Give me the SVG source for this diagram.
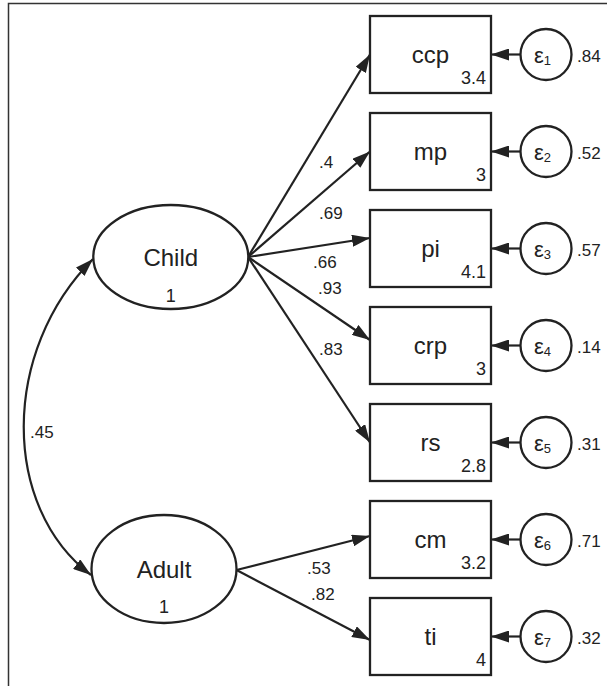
<svg xmlns="http://www.w3.org/2000/svg" width="607" height="686" viewBox="0 0 607 686">
<style>
.frame{fill:none;stroke:#333;stroke-width:1.5}
.box{fill:#fff;stroke:#222;stroke-width:2.3}
.lat{fill:#fff;stroke:#222;stroke-width:2.3}
.err{fill:#fff;stroke:#222;stroke-width:2.3}
.edge{fill:none;stroke:#222;stroke-width:2.2}
text{font-family:"Liberation Sans",Arial,sans-serif;fill:#222}
.lbl{font-size:24px;text-anchor:middle}
.num{font-size:18px;text-anchor:end}
.one{font-size:18px;text-anchor:middle}
.coef{font-size:17px}
.eps{font-size:22px}
.sub{font-size:13px}
</style>
<defs>
<marker id="ah" markerUnits="userSpaceOnUse" markerWidth="18" markerHeight="12" refX="18" refY="6" orient="auto-start-reverse">
<path d="M0,0 L18,6 L0,12 z" fill="#222"/>
</marker>
</defs>
<path class="frame" d="M8.5,686 V3.5 H607"/>
<g id="connectors">
<line class="edge" x1="248" y1="257" x2="370" y2="54.5" marker-end="url(#ah)"/>
<line class="edge" x1="248" y1="257" x2="370" y2="151.5" marker-end="url(#ah)"/>
<line class="edge" x1="248" y1="257" x2="370" y2="238" marker-end="url(#ah)"/>
<line class="edge" x1="248" y1="257" x2="370" y2="340" marker-end="url(#ah)"/>
<line class="edge" x1="248" y1="257" x2="370" y2="442.5" marker-end="url(#ah)"/>
<line class="edge" x1="236.5" y1="570" x2="370" y2="536" marker-end="url(#ah)"/>
<line class="edge" x1="236.5" y1="570" x2="370" y2="640" marker-end="url(#ah)"/>
<line class="edge" x1="520.5" y1="54.5" x2="491" y2="54.5" marker-end="url(#ah)"/>
<line class="edge" x1="520.5" y1="151.5" x2="491" y2="151.5" marker-end="url(#ah)"/>
<line class="edge" x1="520.5" y1="248.5" x2="491" y2="248.5" marker-end="url(#ah)"/>
<line class="edge" x1="520.5" y1="345.5" x2="491" y2="345.5" marker-end="url(#ah)"/>
<line class="edge" x1="520.5" y1="442.5" x2="491" y2="442.5" marker-end="url(#ah)"/>
<line class="edge" x1="520.5" y1="539.5" x2="491" y2="539.5" marker-end="url(#ah)"/>
<line class="edge" x1="520.5" y1="636.5" x2="491" y2="636.5" marker-end="url(#ah)"/>
<path class="edge" d="M93,259 C1,351 1,507 91,575" marker-start="url(#ah)" marker-end="url(#ah)"/>
<text class="coef" x="319" y="168">.4</text>
<text class="coef" x="319" y="219">.69</text>
<text class="coef" x="313" y="268">.66</text>
<text class="coef" x="318" y="294">.93</text>
<text class="coef" x="319" y="355">.83</text>
<text class="coef" x="307" y="574">.53</text>
<text class="coef" x="311" y="600">.82</text>
<text class="coef" x="30" y="438">.45</text>
</g>
<g id="Child">
<ellipse class="lat" cx="170.8" cy="257" rx="77.5" ry="52"/>
<text class="lbl" x="170.8" y="266">Child</text>
<text class="one" x="170.8" y="302">1</text>
</g>
<g id="Adult">
<ellipse class="lat" cx="164" cy="569" rx="72.5" ry="54"/>
<text class="lbl" x="164" y="578">Adult</text>
<text class="one" x="164" y="613">1</text>
</g>
<g id="ccp"><rect class="box" x="370" y="16" width="121" height="77"/><text class="lbl" x="430.5" y="63">ccp</text><text class="num" x="486" y="84">3.4</text></g>
<g id="mp"><rect class="box" x="370" y="113" width="121" height="77"/><text class="lbl" x="430.5" y="160">mp</text><text class="num" x="486" y="181">3</text></g>
<g id="pi"><rect class="box" x="370" y="210" width="121" height="77"/><text class="lbl" x="430.5" y="257">pi</text><text class="num" x="486" y="278">4.1</text></g>
<g id="crp"><rect class="box" x="370" y="307" width="121" height="77"/><text class="lbl" x="430.5" y="354">crp</text><text class="num" x="486" y="375">3</text></g>
<g id="rs"><rect class="box" x="370" y="404" width="121" height="77"/><text class="lbl" x="430.5" y="451">rs</text><text class="num" x="486" y="472">2.8</text></g>
<g id="cm"><rect class="box" x="370" y="501" width="121" height="77"/><text class="lbl" x="430.5" y="548">cm</text><text class="num" x="486" y="569">3.2</text></g>
<g id="ti"><rect class="box" x="370" y="598" width="121" height="77"/><text class="lbl" x="430.5" y="645">ti</text><text class="num" x="486" y="666">4</text></g>
<g id="e1"><circle class="err" cx="546" cy="54.5" r="25.5"/><text class="eps" x="534" y="63">ε<tspan class="sub" dy="2">1</tspan></text><text class="coef" x="577" y="62">.84</text></g>
<g id="e2"><circle class="err" cx="546" cy="151.5" r="25.5"/><text class="eps" x="534" y="160">ε<tspan class="sub" dy="2">2</tspan></text><text class="coef" x="577" y="159">.52</text></g>
<g id="e3"><circle class="err" cx="546" cy="248.5" r="25.5"/><text class="eps" x="534" y="257">ε<tspan class="sub" dy="2">3</tspan></text><text class="coef" x="577" y="256">.57</text></g>
<g id="e4"><circle class="err" cx="546" cy="345.5" r="25.5"/><text class="eps" x="534" y="354">ε<tspan class="sub" dy="2">4</tspan></text><text class="coef" x="577" y="353">.14</text></g>
<g id="e5"><circle class="err" cx="546" cy="442.5" r="25.5"/><text class="eps" x="534" y="451">ε<tspan class="sub" dy="2">5</tspan></text><text class="coef" x="577" y="450">.31</text></g>
<g id="e6"><circle class="err" cx="546" cy="539.5" r="25.5"/><text class="eps" x="534" y="548">ε<tspan class="sub" dy="2">6</tspan></text><text class="coef" x="577" y="547">.71</text></g>
<g id="e7"><circle class="err" cx="546" cy="636.5" r="25.5"/><text class="eps" x="534" y="645">ε<tspan class="sub" dy="2">7</tspan></text><text class="coef" x="577" y="644">.32</text></g>
</svg>
